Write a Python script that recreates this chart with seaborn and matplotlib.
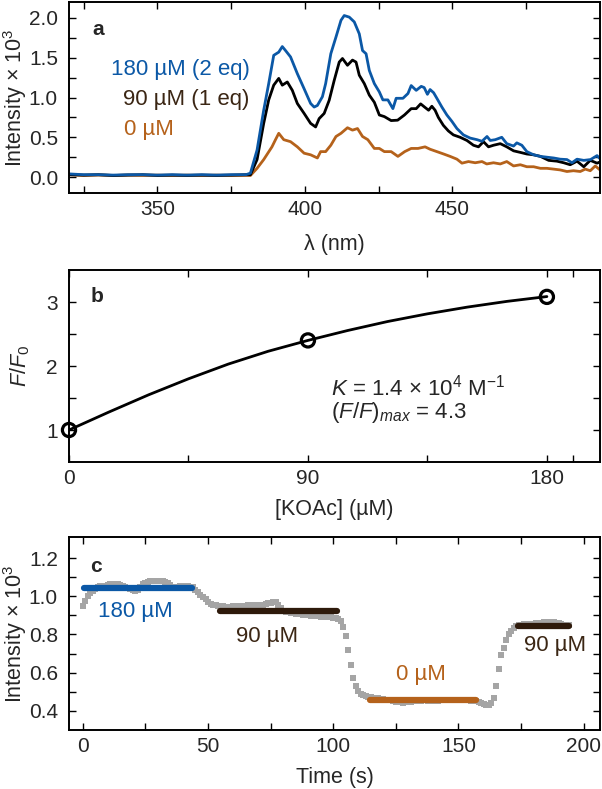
import numpy as np
import pandas as pd
import matplotlib
matplotlib.use("Agg")
import matplotlib.pyplot as plt
from matplotlib.ticker import MultipleLocator, FixedLocator, FormatStrFormatter
import seaborn as sns

# ---------------- data ----------------
# Panel a: emission spectra (intensity x 10^3)
wl_blue = [320, 325, 330, 335, 340, 345, 350, 355, 360, 365, 370, 375, 380,
           381.5, 383.75, 386, 387.7, 389.4, 391.1, 392.3, 393.4, 395.1, 397.4, 399.7,
           401.9, 403.1, 404.2, 405.9, 407, 408.75, 410.5, 412.2, 413.3, 415, 416.7,
           418.4, 419.5, 420.7, 421.8, 423.5, 425.2, 426.4, 428.1, 429.8, 430.9, 433.2,
           434.9, 436, 437.7, 439.4, 440.4, 441.5, 442.4, 443.6, 444.7, 446.4, 448.1,
           449.8, 451.5, 453.7, 456, 458.3, 460, 461.7, 462.8, 464.5, 466.7, 468.4,
           470.7, 471.8, 473.5, 475.2, 477.5, 479.8, 482, 484.3, 486.5, 488.8, 490.5,
           492.2, 494.5, 496.8, 499, 500]
int_blue = [0.04, 0.03, 0.03, 0.025, 0.03, 0.03, 0.025, 0.03, 0.025, 0.03, 0.025, 0.03, 0.03,
            0.05, 0.34, 0.84, 1.175, 1.53, 1.57, 1.64, 1.59, 1.51, 1.30, 1.11,
            0.925, 0.88, 0.90, 1.01, 1.175, 1.55, 1.76, 1.97, 2.03, 2.01, 1.95,
            1.80, 1.59, 1.55, 1.34, 1.175, 1.07, 0.97, 0.97, 0.86, 0.99, 0.99,
            1.05, 1.15, 1.09, 1.14, 1.125, 1.04, 1.10, 1.06, 0.99, 0.88, 0.78,
            0.70, 0.61, 0.53, 0.49, 0.47, 0.45, 0.51, 0.46, 0.47, 0.50, 0.42,
            0.39, 0.43, 0.40, 0.32, 0.28, 0.26, 0.25, 0.24, 0.225, 0.22, 0.18,
            0.225, 0.21, 0.22, 0.27, 0.23]

wl_black = [320, 325, 330, 335, 340, 345, 350, 355, 360, 365, 370, 375, 380,
            381.5, 383.75, 386, 387.7, 389.4, 391.1, 392.3, 394, 395.7, 397.4, 399.7,
            401.9, 403.6, 404.8, 406.5, 408.2, 409.9, 411.6, 412.7, 414.4, 416.1, 417.3,
            418.4, 420.1, 421.8, 423.5, 425.2, 426.9, 429.2, 431.4, 433.7, 436, 437.7,
            439.2, 440.7, 441.9, 443, 444.1, 445.2, 446.9, 448.6, 450.3, 452.6, 454.9,
            457.1, 458.8, 460.5, 462.2, 463.9, 466.2, 468.4, 470.7, 473, 475.2, 477.5,
            479.8, 482.6, 485.4, 487.7, 489.9, 492.2, 494.5, 496.7, 499, 500]
int_black = [0.03, 0.025, 0.03, 0.02, 0.025, 0.03, 0.02, 0.025, 0.02, 0.025, 0.02, 0.025, 0.03,
             0.03, 0.22, 0.675, 0.97, 1.155, 1.24, 1.155, 1.195, 1.09, 0.925, 0.80,
             0.675, 0.63, 0.735, 0.80, 0.965, 1.215, 1.445, 1.49, 1.405, 1.47, 1.445,
             1.28, 1.175, 1.03, 0.94, 0.78, 0.76, 0.71, 0.715, 0.78, 0.86, 0.86,
             0.92, 0.875, 0.84, 0.89, 0.84, 0.75, 0.65, 0.58, 0.53, 0.50, 0.46,
             0.40, 0.38, 0.445, 0.38, 0.40, 0.42, 0.38, 0.33, 0.31, 0.29, 0.28,
             0.26, 0.21, 0.20, 0.18, 0.155, 0.20, 0.13, 0.21, 0.175, 0.19]

wl_orange = [320, 325, 330, 335, 340, 345, 350, 355, 360, 365, 370, 375, 380,
             381.5, 383.75, 386, 388.8, 390, 391.1, 392.8, 395.1, 397.4, 399.7, 401.9,
             404.2, 405.3, 407, 408.75, 410.5, 412.2, 414.4, 416.1, 417.8, 419.5, 421.3,
             423.5, 425.2, 426.9, 429.2, 431.5, 433.8, 436, 438.3, 440.7, 442.4, 444.7,
             447, 449.2, 451.5, 453.2, 455.4, 457.7, 460, 461.6, 463.9, 466.2, 468.4,
             470.7, 473, 475.2, 477.5, 479.8, 482, 484.3, 486.5, 488.8, 491, 493.3,
             495, 496.7, 498.4, 500]
int_orange = [0.03, 0.02, 0.025, 0.02, 0.025, 0.02, 0.025, 0.02, 0.025, 0.02, 0.025, 0.02, 0.02,
              0.02, 0.11, 0.22, 0.38, 0.47, 0.55, 0.47, 0.445, 0.38, 0.30, 0.28,
              0.24, 0.32, 0.32, 0.40, 0.51, 0.55, 0.62, 0.59, 0.61, 0.51, 0.47,
              0.36, 0.36, 0.32, 0.32, 0.26, 0.32, 0.36, 0.36, 0.38, 0.35, 0.32,
              0.29, 0.26, 0.225, 0.175, 0.195, 0.18, 0.195, 0.165, 0.18, 0.165, 0.195,
              0.14, 0.155, 0.13, 0.13, 0.11, 0.11, 0.10, 0.09, 0.07, 0.08, 0.07,
              0.10, 0.08, 0.14, 0.09]

spec_labels = ["180 \u00b5M (2 eq)", "90 \u00b5M (1 eq)", "0 \u00b5M"]

# Panel b: titration points and fitted curve
koac = [0, 90, 180]
ff0 = [1.0, 2.4, 3.08]
fit_x = [0, 15, 30, 45, 60, 75, 90, 105, 120, 135, 150, 165, 180]
fit_y = [1.0, 1.28, 1.55, 1.80, 2.03, 2.23, 2.40, 2.555, 2.695, 2.815, 2.92, 3.01, 3.085]

# Panel c: time trace (intensity x 10^3), 1 s sampling
time_s = list(range(0, 195))
trace = [0.95, 0.975, 1.0, 1.015, 1.03, 1.04,
         1.05, 1.052, 1.05, 1.055, 1.06, 1.062,
         1.063, 1.064, 1.062, 1.058, 1.056, 1.05,
         1.045, 1.04, 1.035, 1.03, 1.035, 1.05,
         1.062, 1.07, 1.075, 1.08, 1.08, 1.08,
         1.079, 1.078, 1.078, 1.076, 1.07, 1.06,
         1.05, 1.045, 1.048, 1.052, 1.055, 1.056,
         1.055, 1.05, 1.048, 1.035, 1.02, 1.005,
         0.995, 0.985, 0.97, 0.96, 0.955, 0.952,
         0.95, 0.948, 0.947, 0.946, 0.945, 0.946,
         0.947, 0.948, 0.948, 0.949, 0.95, 0.951,
         0.952, 0.953, 0.953, 0.954, 0.953, 0.952,
         0.955, 0.958, 0.962, 0.966, 0.97, 0.968,
         0.955, 0.94, 0.925, 0.918, 0.915, 0.912,
         0.91, 0.909, 0.908, 0.906, 0.904, 0.902,
         0.9, 0.899, 0.897, 0.896, 0.894, 0.893,
         0.892, 0.891, 0.89, 0.889, 0.888, 0.885,
         0.882, 0.87, 0.84, 0.79, 0.72, 0.64,
         0.57, 0.53, 0.505, 0.49, 0.483, 0.478,
         0.474, 0.471, 0.469, 0.467, 0.465, 0.463,
         0.461, 0.459, 0.457, 0.455, 0.452, 0.449,
         0.446, 0.444, 0.443, 0.444, 0.446, 0.448,
         0.45, 0.452, 0.453, 0.454, 0.455, 0.455,
         0.454, 0.452, 0.45, 0.451, 0.453, 0.455,
         0.457, 0.458, 0.459, 0.459, 0.458, 0.457,
         0.457, 0.456, 0.456, 0.455, 0.455, 0.454,
         0.452, 0.45, 0.445, 0.44, 0.435, 0.432,
         0.432, 0.44, 0.465, 0.53, 0.62, 0.69,
         0.73, 0.77, 0.80, 0.82, 0.835, 0.845,
         0.85, 0.852, 0.853, 0.854, 0.855, 0.856,
         0.857, 0.858, 0.86, 0.862, 0.864, 0.865,
         0.866, 0.866, 0.864, 0.862, 0.858, 0.855,
         0.852, 0.85, 0.848]
seg_start = [0.5, 54.6, 114.6, 173.7]
seg_end = [43.5, 101.5, 156.8, 194.2]
seg_level = [1.045, 0.923, 0.457, 0.843]
seg_labels = ["180 \u00b5M", "90 \u00b5M", "0 \u00b5M", "90 \u00b5M"]

# ---------------- style ----------------
BLUE = "#0b58a6"
BLACK = "#000000"
ORANGE = "#b5621b"
DBROWN_TXT = "#3b2614"
DBROWN = "#2e1a0b"
GRAY = "#a5a5a5"
seg_colors = [BLUE, DBROWN, ORANGE, DBROWN]

sns.set_theme(style="ticks")
plt.rcParams["font.family"] = ["Liberation Sans", "DejaVu Sans"]
plt.rcParams["mathtext.fontset"] = "custom"
plt.rcParams["mathtext.rm"] = "Liberation Sans"
plt.rcParams["mathtext.it"] = "Liberation Sans:italic"
plt.rcParams["mathtext.bf"] = "Liberation Sans:bold"

TICK_FS = 15
LAB_FS = 15.5
TXT_FS = 16

fig = plt.figure(figsize=(6.02, 7.89), dpi=100)
L, W = 69 / 602, 531 / 602
def box(top_px, bot_px):
    return [L, 1 - bot_px / 789, W, (bot_px - top_px) / 789]

axa = fig.add_axes(box(2, 193))
axb = fig.add_axes(box(270, 462))
axc = fig.add_axes(box(537, 730))

def style_axis(ax):
    for s in ax.spines.values():
        s.set_linewidth(1.4)
        s.set_color("black")
    ax.tick_params(which="both", direction="in", top=True, right=True,
                   width=1.0, color="black", labelsize=TICK_FS, length=5)
    ax.tick_params(axis="x", which="both", pad=5)
    ax.tick_params(axis="y", which="both", pad=8)
    ax.set_facecolor("white")

# ---------------- panel a ----------------
df_o = pd.DataFrame({"wl": wl_orange, "I": int_orange})
df_k = pd.DataFrame({"wl": wl_black, "I": int_black})
df_b = pd.DataFrame({"wl": wl_blue, "I": int_blue})
sns.lineplot(data=df_o, x="wl", y="I", ax=axa, color=ORANGE, lw=2.0, estimator=None)
sns.lineplot(data=df_k, x="wl", y="I", ax=axa, color=BLACK, lw=2.0, estimator=None)
sns.lineplot(data=df_b, x="wl", y="I", ax=axa, color=BLUE, lw=2.0, estimator=None)
axa.set_xlim(320, 500)
axa.set_ylim(-0.2, 2.2)
axa.xaxis.set_major_locator(FixedLocator([350, 400, 450]))
axa.xaxis.set_minor_locator(FixedLocator([325, 375, 425, 475]))
axa.yaxis.set_major_locator(MultipleLocator(0.5))
axa.yaxis.set_minor_locator(MultipleLocator(0.25))
axa.yaxis.set_major_formatter(FormatStrFormatter("%.1f"))
style_axis(axa)
axa.set_xlabel("\u03bb (nm)", fontsize=LAB_FS, labelpad=11)
axa.set_ylabel("Intensity \u00d7 10$^3$", fontsize=LAB_FS, labelpad=0)
axa.text(327.8, 1.85, "a", fontsize=15, fontweight="bold", va="center", ha="left")
axa.text(334.3, 1.35, spec_labels[0], color=BLUE, fontsize=TXT_FS, va="center", ha="left")
axa.text(338.3, 0.98, spec_labels[1], color=DBROWN_TXT, fontsize=TXT_FS, va="center", ha="left")
axa.text(338.8, 0.60, spec_labels[2], color=ORANGE, fontsize=TXT_FS, va="center", ha="left")

# ---------------- panel b ----------------
df_fit = pd.DataFrame({"x": fit_x, "y": fit_y})
sns.lineplot(data=df_fit, x="x", y="y", ax=axb, color="black", lw=2.0, estimator=None)
df_pts = pd.DataFrame({"x": koac, "y": ff0})
sns.scatterplot(data=df_pts, x="x", y="y", ax=axb, marker="o", s=90,
                facecolors="none", edgecolor="black", linewidth=2.3, clip_on=False, zorder=5)
axb.set_xlim(0, 200)
axb.set_ylim(0.5, 3.5)
axb.xaxis.set_major_locator(FixedLocator([0, 90, 180]))
axb.xaxis.set_minor_locator(FixedLocator([45, 135, 190]))
axb.yaxis.set_major_locator(FixedLocator([1, 2, 3]))
axb.yaxis.set_minor_locator(FixedLocator([1.5, 2.5]))
style_axis(axb)
axb.set_xlabel("[KOAc] (\u00b5M)", fontsize=LAB_FS, labelpad=8)
axb.set_ylabel("$F/F_0$", fontsize=LAB_FS, labelpad=10)
axb.text(8.0, 3.09, "b", fontsize=15, fontweight="bold", va="center", ha="left")
axb.text(98.6, 1.67, "$K$ = 1.4 \u00d7 10$^4$ M$^{-1}$", fontsize=TXT_FS, va="center", ha="left")
axb.text(98.6, 1.28, "($F$/$F$)$_{max}$ = 4.3", fontsize=TXT_FS, va="center", ha="left")

# ---------------- panel c ----------------
df_tr = pd.DataFrame({"t": time_s, "I": trace})
sns.scatterplot(data=df_tr, x="t", y="I", ax=axc, marker="s", s=14, color=GRAY,
                linewidth=0, zorder=2)
for x0, x1, lev, col in zip(seg_start, seg_end, seg_level, seg_colors):
    dseg = pd.DataFrame({"t": [x0, x1], "I": [lev, lev]})
    sns.lineplot(data=dseg, x="t", y="I", ax=axc, color=col, lw=4.5,
                 solid_capstyle="round", estimator=None, zorder=3)
axc.set_xlim(-5.5, 206.5)
axc.set_ylim(0.3, 1.31)
axc.xaxis.set_major_locator(MultipleLocator(50))
axc.xaxis.set_minor_locator(MultipleLocator(25))
axc.yaxis.set_major_locator(FixedLocator([0.4, 0.6, 0.8, 1.0, 1.2]))
axc.yaxis.set_minor_locator(FixedLocator([0.5, 0.7, 0.9, 1.1]))
axc.yaxis.set_major_formatter(FormatStrFormatter("%.1f"))
style_axis(axc)
axc.set_xlabel("Time (s)", fontsize=LAB_FS, labelpad=8)
axc.set_ylabel("Intensity \u00d7 10$^3$", fontsize=LAB_FS, labelpad=0)
axc.text(3.0, 1.155, "c", fontsize=15, fontweight="bold", va="center", ha="left")
lab_x = [21.1, 73.7, 135.1, 188.5]
lab_y = [0.918, 0.791, 0.588, 0.744]
lab_c = [BLUE, DBROWN_TXT, ORANGE, DBROWN_TXT]
for x, y, s, c in zip(lab_x, lab_y, seg_labels, lab_c):
    axc.text(x, y, s, color=c, fontsize=TXT_FS, va="center", ha="center")

fig.savefig("out.png", dpi=100, facecolor="white")
